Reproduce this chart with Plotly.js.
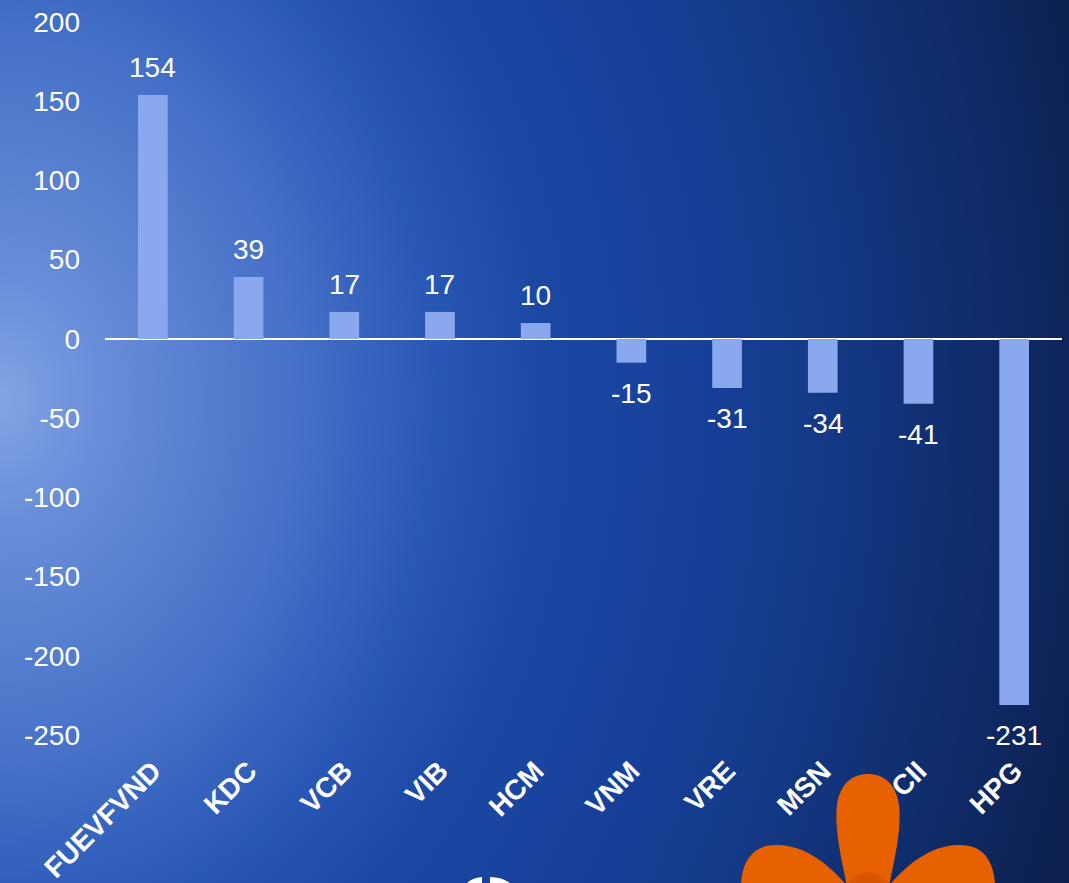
<!DOCTYPE html>
<html>
<head>
<meta charset="utf-8">
<script src="https://cdn.plot.ly/plotly-3.0.1.min.js"></script>
<style>
html,body{margin:0;padding:0;width:1069px;height:883px;overflow:hidden;}
body{background:radial-gradient(ellipse 1390px 1700px at 0px 400px, #82A4E5 0%, #6A8ED9 7%, #4772C8 21%, #2A58B6 31%, #1B48A3 39%, #17409A 50%, #143A89 58%, #102D6C 70%, #0C2152 80%, #0A1A44 100%);}
#deco{position:absolute;left:0;top:0;width:1069px;height:883px;}
#chart{position:absolute;left:0;top:0;width:1069px;height:883px;}
</style>
</head>
<body>
<svg id="deco" width="1069" height="883" viewBox="0 0 1069 883">
  <defs>
    <radialGradient id="pg" gradientUnits="userSpaceOnUse" cx="868" cy="895" r="60">
      <stop offset="0" stop-color="#C24400"/>
      <stop offset="0.6" stop-color="#DC5800"/>
      <stop offset="1" stop-color="#E86100"/>
    </radialGradient>
  </defs>
  <path d="M852 892 C835 870 810 846 778 845 C752 844 740 862 741 892 Z" fill="#E86100"/>
  <path d="M884 892 C901 870 926 846 958 845 C984 844 996 862 995 892 Z" fill="#E86100"/>
  <path d="M848 892 C842 860 834 830 837 805 C840 783 853 774 868 774 C883 774 896 783 899 805 C902 830 894 860 888 892 Z" fill="#E86100"/>
  <path d="M840 892 C850 878 858 872 868 872 C878 872 886 878 896 892 Z" fill="url(#pg)" opacity="0.6"/>
  <path d="M467 883 Q472 878 482 877 L482 883 Z" fill="#ffffff"/>
  <path d="M490 877 Q502 877 510 883 L490 883 Z" fill="#ffffff"/>
</svg>
<div id="chart"></div>
<script>
var categories = ["FUEVFVND","KDC","VCB","VIB","HCM","VNM","VRE","MSN","CII","HPG"];
var values = [154, 39, 17, 17, 10, -15, -31, -34, -41, -231];
var yTicks = [200, 150, 100, 50, 0, -50, -100, -150, -200, -250];

var FONT = "Liberation Sans, Arial, sans-serif";

var trace = {
  type: "bar",
  x: categories,
  y: values,
  marker: {color: "#8AA8EE"},
  width: 0.31,
  hoverinfo: "none"
};

var annotations = categories.map(function (c, i) {
  var v = values[i];
  return {
    x: c, y: v, xref: "x", yref: "y",
    text: String(v),
    showarrow: false,
    yanchor: v >= 0 ? "bottom" : "top",
    yshift: v >= 0 ? 10 : -13,
    font: {family: FONT, size: 28, color: "#ffffff"}
  };
});

var layout = {
  width: 1069, height: 883,
  margin: {l: 105, r: 7, t: 22, b: 148},
  paper_bgcolor: "rgba(0,0,0,0)",
  plot_bgcolor: "rgba(0,0,0,0)",
  showlegend: false,
  font: {family: FONT, color: "#ffffff"},
  annotations: annotations,
  xaxis: {
    type: "category",
    tickangle: -45,
    tickfont: {size: 28, color: "#ffffff", family: FONT, weight: "bold"},
    showgrid: false, zeroline: false, showline: false, ticks: "",
    ticklabelstandoff: 13
  },
  yaxis: {
    range: [-250, 200],
    tickvals: yTicks,
    ticktext: yTicks.map(String),
    tickfont: {size: 28, color: "#ffffff"},
    showgrid: false,
    zeroline: true, zerolinecolor: "#ffffff", zerolinewidth: 2,
    showline: false, ticks: "",
    ticklabelstandoff: 24
  },
  bargap: 0.69
};

Plotly.newPlot("chart", [trace], layout, {displayModeBar: false, staticPlot: true});
</script>
</body>
</html>
